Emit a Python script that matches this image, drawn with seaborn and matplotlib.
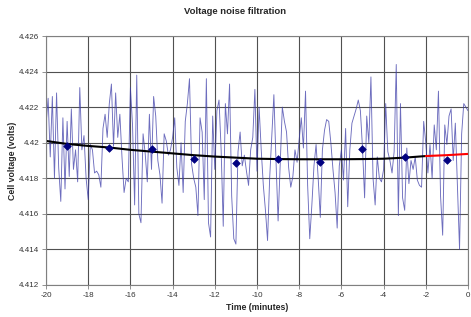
import numpy as np
import pandas as pd
import seaborn as sns
import matplotlib
matplotlib.use('Agg')
import matplotlib.pyplot as plt

# raw cell voltage, one reading every 0.1 min from -20 to 0
noise = [
    4.4210, 4.4225, 4.4192, 4.4226, 4.4180, 4.4228, 4.4186, 4.4167, 4.4214, 4.4174,
    4.4212, 4.4181, 4.4219, 4.4185, 4.4196, 4.4178, 4.4231, 4.4196, 4.4204, 4.4180,
    4.4168, 4.4199, 4.4196, 4.4183, 4.4184, 4.4182, 4.4175, 4.4208, 4.4216, 4.4203,
    4.4222, 4.4233, 4.4198, 4.4228, 4.4203, 4.4216, 4.4192, 4.4172, 4.4180, 4.4178,
    4.4231, 4.4210, 4.4165, 4.4238, 4.4160, 4.4155, 4.4205, 4.4194, 4.4178, 4.4216,
    4.4185, 4.4226, 4.4215, 4.4190, 4.4182, 4.4166, 4.4205, 4.4201, 4.4193, 4.4196,
    4.4203, 4.4214, 4.4186, 4.4176, 4.4200, 4.4172, 4.4212, 4.4222, 4.4236, 4.4188,
    4.4180, 4.4175, 4.4159, 4.4214, 4.4206, 4.4168, 4.4236, 4.4155, 4.4147, 4.4215,
    4.4185, 4.4218, 4.4224, 4.4196, 4.4153, 4.4222, 4.4205, 4.4233, 4.4170, 4.4146,
    4.4143, 4.4195, 4.4206, 4.4187, 4.4193, 4.4184, 4.4176, 4.4196, 4.4203, 4.4230,
    4.4184, 4.4220, 4.4196, 4.4176, 4.4162, 4.4145, 4.4180, 4.4203, 4.4227, 4.4190,
    4.4156, 4.4188, 4.4220, 4.4212, 4.4206, 4.4186, 4.4175, 4.4181, 4.4196, 4.4189,
    4.4202, 4.4214, 4.4197, 4.4229, 4.4176, 4.4146, 4.4165, 4.4187, 4.4199, 4.4180,
    4.4158, 4.4196, 4.4207, 4.4213, 4.4212, 4.4200, 4.4185, 4.4172, 4.4152, 4.4187,
    4.4196, 4.4179, 4.4208, 4.4164, 4.4196, 4.4211, 4.4215, 4.4219, 4.4224, 4.4218,
    4.4197, 4.4169, 4.4215, 4.4200, 4.4237, 4.4180, 4.4165, 4.4192, 4.4180, 4.4178,
    4.4185, 4.4222, 4.4195, 4.4190, 4.4183, 4.4195, 4.4244, 4.4159, 4.4222, 4.4169,
    4.4162, 4.4197, 4.4177, 4.4190, 4.4185, 4.4192, 4.4179, 4.4176, 4.4175, 4.4212,
    4.4200, 4.4183, 4.4199, 4.4180, 4.4210, 4.4196, 4.4229, 4.4170, 4.4148, 4.4210,
    4.4199, 4.4215, 4.4219, 4.4190, 4.4211, 4.4175, 4.4140, 4.4205, 4.4222, 4.4220,
    4.4218,
]
t_noise = np.round(np.arange(len(noise)) / 10 - 20, 1)

# filtered value (black) and forecast (red)
filt_t = [-20, -19, -18, -17, -16, -15, -14, -13, -12, -11, -10,
          -9, -8, -7, -6, -5, -4, -3, -2]
filt_v = [4.4201, 4.41993, 4.41982, 4.41973, 4.4196, 4.4195, 4.4194, 4.4193,
          4.41922, 4.41916, 4.4191, 4.41908, 4.41907, 4.41907, 4.41907,
          4.41908, 4.4191, 4.41916, 4.41925]
pred_t = [-2, -1, 0]
pred_v = [4.41925, 4.4193, 4.41937]

# two-minute averages
avg_t = [-19, -17, -15, -13, -11, -9, -7, -5, -3, -1]
avg_v = [4.41984, 4.41972, 4.41965, 4.41909, 4.41888, 4.4191, 4.4189,
         4.41963, 4.4192, 4.41903]

sns.set_style('white')
plt.rcParams['font.family'] = ['Liberation Sans', 'DejaVu Sans']
plt.rcParams['axes.unicode_minus'] = False

fig = plt.figure(figsize=(4.71, 3.17), dpi=100)
ax = fig.add_axes([0.0977, 0.101, 0.8959, 0.7854])

sns.lineplot(x=t_noise, y=noise, ax=ax, color='#3c3ca8', lw=0.65, alpha=0.75)
sns.lineplot(x=filt_t, y=filt_v, ax=ax, color='black', lw=1.5)
sns.lineplot(x=pred_t, y=pred_v, ax=ax, color='#ff0000', lw=1.5)
sns.scatterplot(x=avg_t, y=avg_v, ax=ax, marker='D', color='#000080',
                s=15, edgecolor='#000080', linewidth=0.5, zorder=5)

ax.set_xlim(-20, 0)
ax.set_ylim(4.412, 4.426)
ax.set_xticks(range(-20, 1, 2))
ax.set_yticks(np.arange(4.412, 4.4261, 0.002))
ax.set_yticklabels([('%.3f' % v).rstrip('0') for v in np.arange(4.412, 4.4261, 0.002)])
ax.grid(True, color='#505050', lw=0.8)
ax.set_axisbelow(True)
for s in ax.spines.values():
    s.set_color('#808080')
    s.set_linewidth(0.8)
ax.tick_params(axis='both', labelsize=5.8, length=3, width=0.6, color='#808080',
               pad=2, labelcolor='#333333', direction='out')
ax.tick_params(axis='x', bottom=True)
ax.tick_params(axis='y', left=True)

fig.text(0.5, 0.965, 'Voltage noise filtration', ha='center', va='center',
         fontsize=6.8, fontweight='bold')
ax.set_xlabel('Time (minutes)', fontsize=6.3, fontweight='bold', labelpad=3)
ax.set_ylabel('Cell voltage (volts)', fontsize=6.3, fontweight='bold', labelpad=1)

fig.savefig('out.png', dpi=100)
